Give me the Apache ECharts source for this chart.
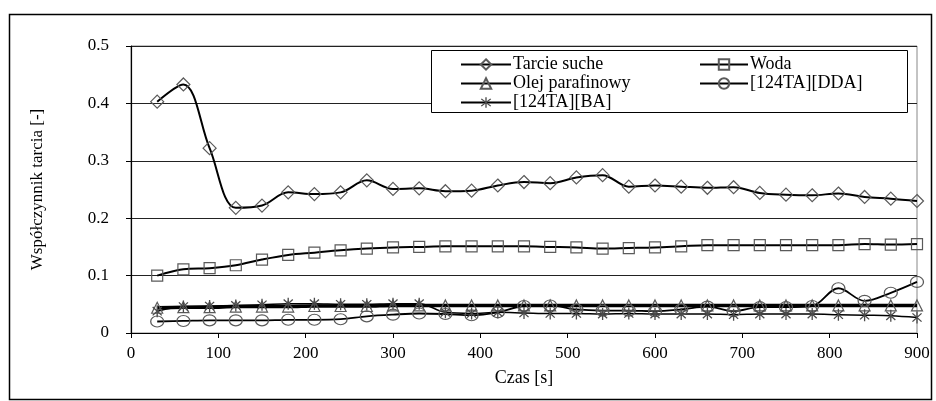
<!DOCTYPE html>
<html><head><meta charset="utf-8">
<script src="https://cdn.jsdelivr.net/npm/echarts@6/dist/echarts.min.js"></script>
<style>html,body{margin:0;padding:0;background:#fff}#c{width:936px;height:401px}</style>
</head><body><div id="c"></div>
<script>
const times = [30,60,90,120,150,180,210,240,270,300,330,360,390,420,450,480,510,540,570,600,630,660,690,720,750,780,810,840,870,900];
const tarcieSuche = [0.403,0.433,0.322,0.218,0.222,0.245,0.242,0.245,0.266,0.251,0.252,0.247,0.248,0.257,0.263,0.261,0.271,0.275,0.255,0.257,0.255,0.253,0.254,0.244,0.241,0.240,0.243,0.237,0.234,0.230];
const woda = [0.100,0.111,0.113,0.118,0.128,0.136,0.140,0.144,0.147,0.149,0.150,0.151,0.151,0.151,0.151,0.150,0.149,0.147,0.148,0.149,0.151,0.153,0.153,0.153,0.153,0.153,0.153,0.155,0.154,0.155];
const olej = [0.044,0.045,0.045,0.046,0.046,0.046,0.047,0.047,0.047,0.048,0.048,0.048,0.048,0.048,0.048,0.048,0.048,0.048,0.048,0.048,0.048,0.048,0.048,0.048,0.048,0.048,0.048,0.048,0.048,0.048];
const dda = [0.020,0.021,0.022,0.022,0.022,0.023,0.023,0.024,0.029,0.032,0.034,0.033,0.031,0.036,0.047,0.048,0.041,0.039,0.039,0.038,0.041,0.046,0.038,0.045,0.045,0.047,0.078,0.056,0.070,0.089];
const ba = [0.038,0.046,0.047,0.048,0.049,0.051,0.051,0.050,0.050,0.051,0.051,0.036,0.034,0.036,0.035,0.034,0.034,0.033,0.034,0.033,0.033,0.033,0.032,0.033,0.033,0.033,0.032,0.031,0.030,0.027];
const seriesNames = ['Tarcie suche','Woda','Olej parafinowy','[124TA][DDA]','[124TA][BA]'];
const xTicks = [0,100,200,300,400,500,600,700,800,900];
const yTicks = ['0','0.1','0.2','0.3','0.4','0.5'];

const pair = arr => arr.map((v,i)=>[times[i], v]);
const FONT = '"Liberation Serif", "Times New Roman", serif';
const star = 'path://M-1,-10L1,-10L1,10L-1,10Z M-6.3,-7.7L7.7,6.3L6.3,7.7L-7.7,-6.3Z M7.7,-6.3L-6.3,7.7L-7.7,6.3L6.3,-7.7Z';
const hollow = {color:'rgba(255,255,255,0)', borderColor:'#5a5a5a', borderWidth:1.2};

function mk(name, data, symbol, size, lw, item){
  return {name, type:'line', data:pair(data), smooth:0.35, symbol, symbolSize:size,
    showSymbol:true, lineStyle:{color:'#000', width:lw}, itemStyle:item, emphasis:{disabled:true}};
}

const legText = {fontFamily:FONT, fontSize:18, lineHeight:19, color:'#000', padding:[0,0,0,-3]};

const chart = echarts.init(document.getElementById('c'), null, {renderer:'canvas'});
chart.setOption({
  animation:false,
  backgroundColor:'#fff',
  textStyle:{fontFamily:FONT},
  grid:{left:131, right:19, top:46, bottom:68, show:true, borderColor:'#888', borderWidth:1},
  xAxis:{type:'value', min:0, max:900, interval:100,
    name:'Czas [s]', nameLocation:'middle', nameGap:36,
    nameTextStyle:{fontFamily:FONT, fontSize:18, color:'#000'},
    axisLine:{show:true, lineStyle:{color:'#000', width:1.2}},
    axisTick:{show:true, inside:false, length:5, lineStyle:{color:'#000'}},
    axisLabel:{fontFamily:FONT, fontSize:17, color:'#000', margin:12,
      formatter: v => { const i = xTicks.indexOf(v); return i>=0 ? String(xTicks[i]) : ''; }},
    splitLine:{show:false}},
  yAxis:{type:'value', min:0, max:0.5, interval:0.1,
    name:'Współczynnik tarcia [-]', nameLocation:'middle', nameGap:85, nameRotate:90,
    nameTextStyle:{fontFamily:FONT, fontSize:17, color:'#000'},
    axisLine:{show:true, lineStyle:{color:'#000', width:1.2}},
    axisTick:{show:true, inside:false, length:5, lineStyle:{color:'#000'}},
    axisLabel:{fontFamily:FONT, fontSize:17, color:'#000', margin:22,
      formatter: v => yTicks[Math.round(v*10)]},
    splitLine:{show:true, lineStyle:{color:'#222', width:1}}},
  legend:[
    {orient:'vertical', left:455, top:50, itemWidth:50, itemHeight:13, itemGap:0, z:6,
     data:[seriesNames[0], seriesNames[2], seriesNames[4]], textStyle:legText},
    {orient:'vertical', left:694, top:50, itemWidth:48, itemHeight:13, itemGap:0, z:6,
     data:[seriesNames[1], seriesNames[3]], textStyle:legText}
  ],
  graphic:[
    {type:'rect', left:7, top:12, shape:{width:922, height:385}, style:{fill:'none', stroke:'#000', lineWidth:1.5}, silent:true, z:-1},
    {type:'rect', left:431, top:50, shape:{width:476, height:62}, style:{fill:'#fff', stroke:'#000', lineWidth:1}, silent:true, z:5}
  ],
  series:[
    mk(seriesNames[0], tarcieSuche, 'diamond', 13, 2, hollow),
    mk(seriesNames[1], woda, 'rect', 11, 2, hollow),
    mk(seriesNames[2], olej, 'triangle', 11, 3.5, hollow),
    mk(seriesNames[3], dda, 'circle', [13,11], 1.8, hollow),
    mk(seriesNames[4], ba, star, [10,12], 1.5, {color:'#4a4a4a', borderWidth:0})
  ]
});
</script></body></html>
